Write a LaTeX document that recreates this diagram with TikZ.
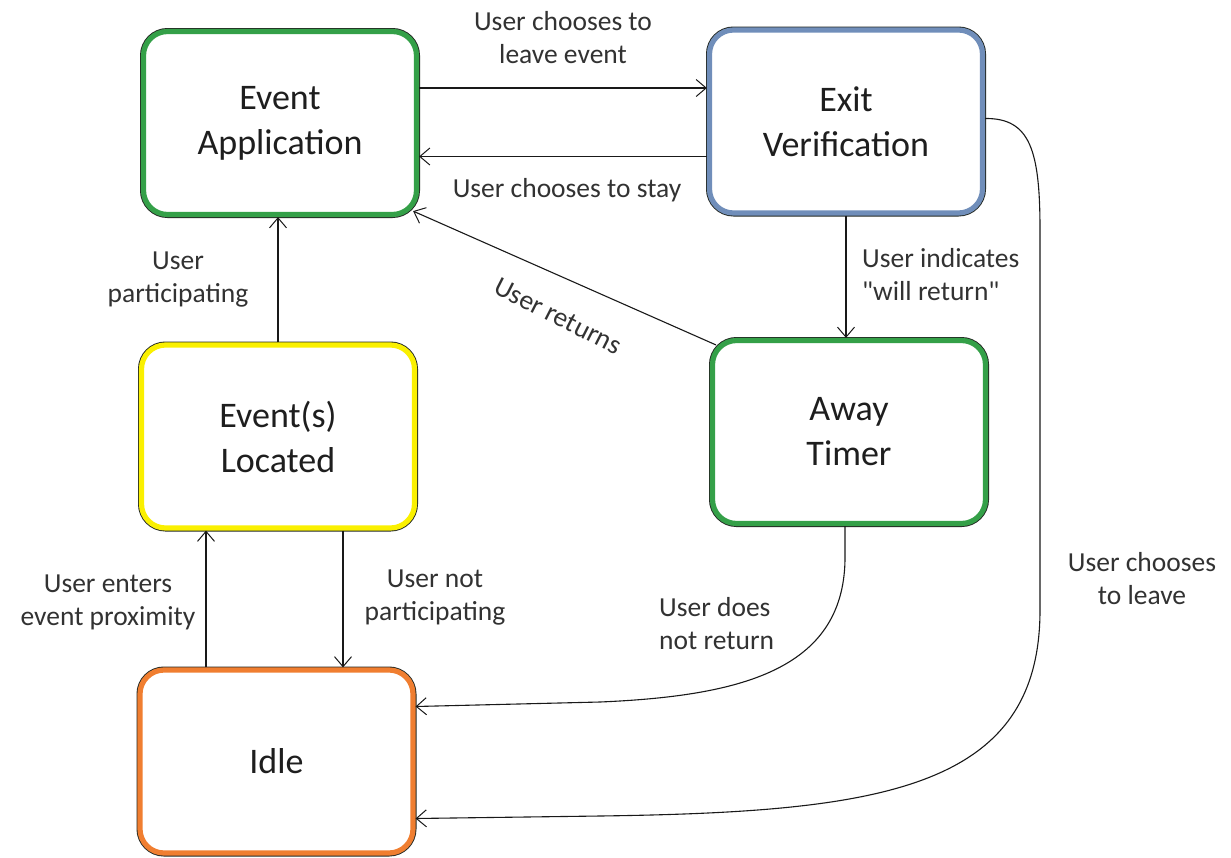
\documentclass[tikz,border=0pt]{standalone}
\usepackage{fontspec}
\setmainfont{Carlito}[Ligatures=TeXOff]
\usetikzlibrary{arrows.meta,calc}
\definecolor{bgreen}{RGB}{52,160,72}
\definecolor{bblue}{RGB}{112,142,186}
\definecolor{byellow}{RGB}{250,240,0}
\definecolor{borange}{RGB}{240,126,48}
\definecolor{edgedark}{RGB}{35,40,35}
\definecolor{txt}{RGB}{30,30,30}
\definecolor{lbl}{RGB}{50,50,50}
\begin{document}
\begin{tikzpicture}[x=1pt,y=-1pt,
  state/.style={rectangle, rounded corners=24pt, minimum width=273pt, minimum height=183pt,
    fill=white, draw=#1, line width=5.2pt, preaction={draw=edgedark, line width=7pt},
    align=center, font=\fontsize{36}{45}\selectfont, text=txt, inner sep=0pt},
  lab/.style={font=\fontsize{27.5}{33}\selectfont, text=lbl, inner sep=0pt},
  arr/.style={-{Straight Barb[length=10pt,width=17pt,line width=1pt]}, line width=1.1pt, draw=black!90}
]
\useasboundingbox (0,0) rectangle (1231,857);
\fill[white] (0,0) rectangle (1231,857);

% states
\node[state=bgreen]  (EA)   at (280,123)   {Event\\Application};
\node[state=bblue]   (EV)   at (846,121.5) {Exit\\Verification};
\node[state=byellow] (LOC)  at (278,436.5) {Event(s)\\Located};
\node[state=bgreen]  (AT)   at (849,432)   {Away\\Timer};
\node[state=borange] (IDLE) at (276.5,761.5) {Idle};

% connectors
\draw[arr] ([yshift=35pt]EA.east) -- ([yshift=35pt]EA.east -| EV.west);
\draw[arr] ([yshift=-35pt]EV.west) -- ([yshift=-35pt]EV.west -| EA.east);
\draw[arr] (LOC.north) -- (LOC.north |- EA.south);
\draw[arr] (EV.south) -- (EV.south |- AT.north);
\draw[arr] ([shift={(6,7)}]AT.north west) -- ([shift={(-6,-6)}]EA.south east);
\draw[arr] ([xshift=-72pt]LOC.south |- IDLE.north) -- ([xshift=-72pt]LOC.south);
\draw[arr] ([xshift=65pt]LOC.south) -- ([xshift=65pt]LOC.south |- IDLE.north);
\draw[arr] ([xshift=-4pt]AT.south) -- ++(0,34) .. controls +(-2,110) and (740,696) .. (600,702) -- ([yshift=55pt]IDLE.east);
\draw[arr] ([yshift=3pt]EV.east) .. controls (1030,118) and (1040,150) .. (1040,230) -- (1040,610)
   .. controls (1040,790) and (880,812) .. (600,816) -- ([yshift=-57pt]IDLE.east);

% labels
\node[lab, align=center] (l1) at (563,38) {User chooses to\\leave event};
\node[lab] (l2) at (567,190) {User chooses to stay};
\node[lab, align=center] (l3) at (178,280) {User\\participating};
\node[lab, rotate=-27] (l4) at (558,316) {User returns};
\node[lab, align=left, anchor=west] (l5) at (862,275) {User indicates\\"will return"};
\node[lab, align=center] (l6) at (108,602) {User enters\\event proximity};
\node[lab, align=center] (l7) at (435,598) {User not\\participating};
\node[lab, align=left, anchor=west] (l8) at (659,624) {User does\\not return};
\node[lab, align=center] (l9) at (1142,579) {User chooses\\to leave};
\end{tikzpicture}
\end{document}
